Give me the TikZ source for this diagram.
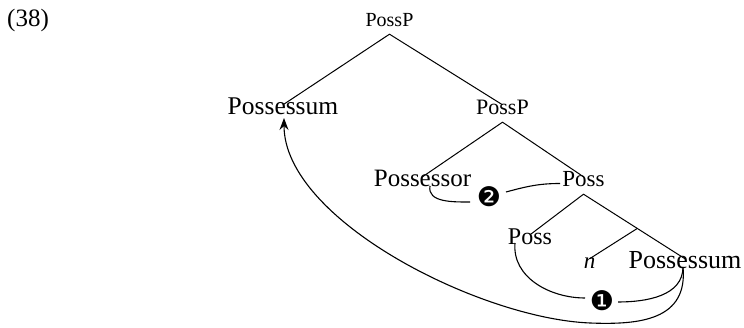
\documentclass[tikz,border=0pt]{standalone}
\usepackage{fontspec}
\setmainfont{Liberation Serif}
\newfontfamily\dingfont{DejaVu Sans}
\usepackage{tikz}
\usetikzlibrary{calc,arrows.meta}
\newcommand{\fsz}[1]{\fontsize{#1}{#1}\selectfont}
\tikzset{
  word/.style   = {anchor=base, inner xsep=0pt, inner ysep=3pt, font=\fsz{#1}, text height=.7em, text depth=.4em},
  numbox/.style = {inner sep=0pt, font=\dingfont\fsz{27}},
  branch/.style = {line width=1pt},
  link/.style   = {line width=1.1pt},
  move/.style   = {link, -{Stealth[length=12pt,width=9pt,inset=4pt]}},
}

\begin{document}
\begin{tikzpicture}[x=1pt,y=1pt]
  \useasboundingbox (0,0) rectangle (744,328);
  \node[word=25, anchor=base west] (ex) at (7,301) {(38)};
  % tree
  \node[word=20] (pp1) at (389.5,301) {PossP};
  \node[word=25.5] (pm1) at (283,213) {Possessum};
  \node[word=22] (pp2) at (502.5,213) {PossP};
  \node[word=25] (por) at (422.5,141) {Possessor};
  \node[word=23] (ps1) at (583.5,141) {Poss};
  \node[word=24] (ps2) at (530,83) {Poss};
  \node[word=23] (nn) at (589.5,59) {\itshape n};
  \node[word=26] (pm2) at (685,59) {Possessum};
  \coordinate (mid) at ($(ps1.south)!.53!(pm2.north)$);
  \draw[branch] (pm1.north) -- (pp1.south) -- (pp2.north);
  \draw[branch] (por.north) -- (pp2.south) -- (ps1.north);
  \draw[branch] (ps2.north) -- (ps1.south) -- (pm2.north);
  \draw[branch] (mid) -- (nn.north);
  % movement steps
  \node[numbox] (one) at (602,27) {❶};
  \node[numbox] (two) at (489,131) {❷};
  \draw[link] ($(por.base)+(7.5,1)$) to[out=-100,in=180] ($(two)+(-19,-5)$);
  \draw[link] ($(two)+(17,5)$) to[out=15,in=180] ($(ps1.west)+(-2,2)$);
  \draw[link] ($(ps2.base)+(-15,2)$) to[out=-95,in=180] ($(one)+(-17,3)$);
  \draw[link] ($(one)+(16,-1)$) to[out=0,in=-90] ($(pm2.base)+(-2,2)$);
  \draw[move] ($(pm2.base)+(-2,2)$) .. controls (688,8) and (640,3) .. (590,5)
    .. controls (480,9.4) and ($(pm1.base)+(1,-105)$) .. ($(pm1.base)+(1,-3)$);
\end{tikzpicture}
\end{document}
